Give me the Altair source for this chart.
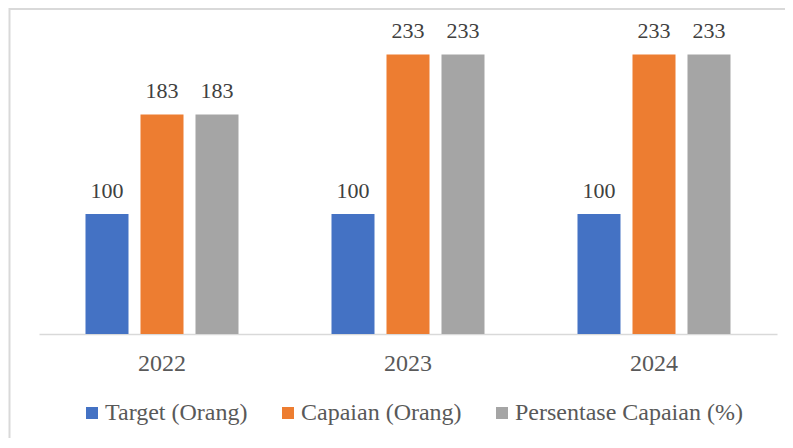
import altair as alt
import pandas as pd

years = ["2022", "2023", "2024"]
series = ["Target (Orang)", "Capaian (Orang)", "Persentase Capaian (%)"]
target = [100, 100, 100]
capaian = [183, 233, 233]
persentase = [183, 233, 233]
colors = ["#4472C4", "#ED7D31", "#A5A5A5"]

rows = []
for i, y in enumerate(years):
    for s, vals in zip(series, [target, capaian, persentase]):
        rows.append({"year": y, "series": s, "value": vals[i]})
df = pd.DataFrame(rows)

FONT = "Times New Roman, Liberation Serif, serif"

x = alt.X("year:N", sort=years, title=None,
          scale=alt.Scale(paddingInner=0.378, paddingOuter=0.189),
          axis=alt.Axis(labelAngle=0, labelFontSize=24, labelFont=FONT, labelColor="#595959",
                        ticks=False, domainColor="#D9D9D9", domainWidth=1.5, labelPadding=17))
xo = alt.XOffset("series:N", sort=series, scale=alt.Scale(paddingInner=0.218, paddingOuter=0))
y = alt.Y("value:Q", axis=None, scale=alt.Scale(domain=[0, 250], nice=False))

bars = alt.Chart(df).mark_bar().encode(
    x=x, xOffset=xo, y=y,
    color=alt.Color("series:N", sort=series,
                    scale=alt.Scale(domain=series, range=colors),
                    legend=alt.Legend(title=None, orient="none", direction="horizontal",
                                      legendX=41, legendY=367,
                                      symbolType="square", symbolSize=144, symbolStrokeWidth=0,
                                      labelFont=FONT, labelFontSize=24, labelColor="#595959",
                                      labelLimit=400, labelOffset=1, columnPadding=28)),
)

labels = alt.Chart(df).mark_text(baseline="alphabetic", dy=-16, font=FONT, fontSize=22,
                                 color="#404040").encode(
    x=x, xOffset=xo, y=y, text=alt.Text("value:Q"))

border_df = pd.DataFrame({"k": [0]})
left_border = alt.Chart(border_df).mark_rule(color="#D9D9D9", strokeWidth=2).encode(
    x=alt.value(-29.5), y=alt.value(-26), y2=alt.value(410))
top_border = alt.Chart(border_df).mark_rule(color="#D9D9D9", strokeWidth=2).encode(
    x=alt.value(-30), x2=alt.value(760), y=alt.value(-25))

chart = alt.layer(bars, labels, left_border, top_border).properties(
    width=738, height=300,
    autosize=alt.AutoSizeParams(type="none"),
    padding={"left": 31, "top": 26, "right": 8, "bottom": 104},
).configure_view(stroke=None)

chart.save("out.html", embed_options={"renderer": "svg", "actions": False})
